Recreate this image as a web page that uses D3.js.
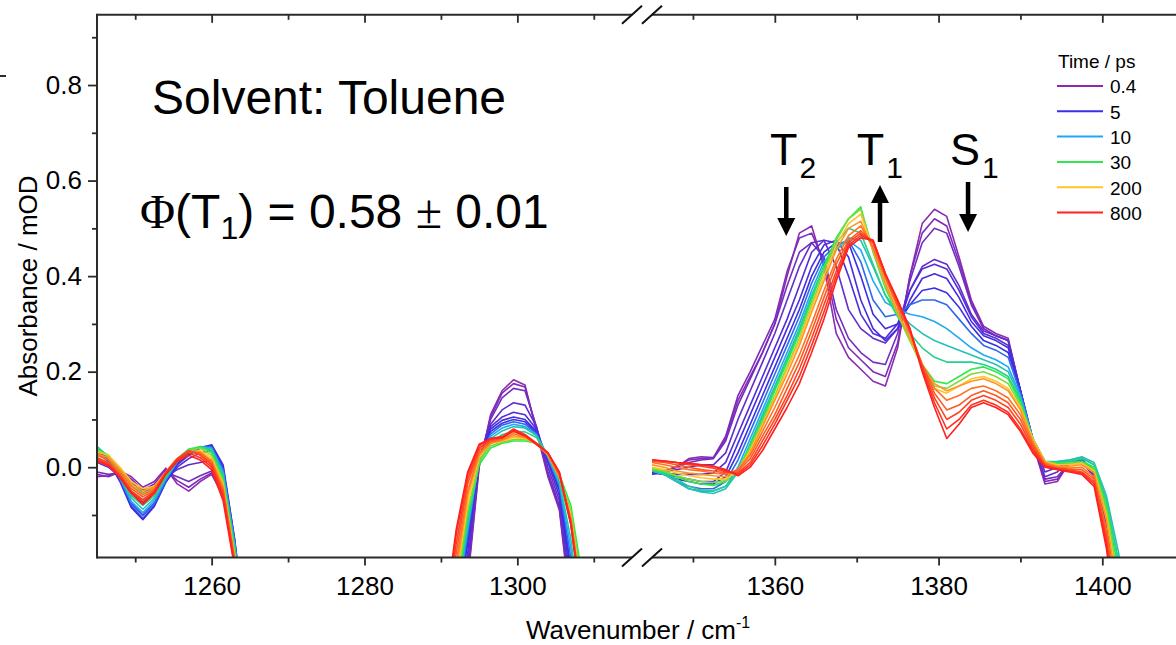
<!DOCTYPE html>
<html>
<head>
<meta charset="utf-8">
<script src="https://cdn.jsdelivr.net/npm/d3@7"></script>
<style>
  body { margin: 0; background: #fff; }
  svg text { font-family: "Liberation Sans", Arial, sans-serif; fill: #000; }
</style>
</head>
<body>
<div id="chart"></div>
<script>
// delay of each trace (ps), drawn in this order so the late red ones sit on top
const delays = [0.4, 0.6, 0.8, 1.5, 2.5, 4, 5, 7, 10, 15, 20, 30, 60, 200, 300, 400, 500, 600, 700, 800];
const legendTimes = [0.4, 5, 10, 30, 200, 800];
const legendColors = ["#8a2cb0", "#3d2ee6", "#1fa8f5", "#2fe84a", "#ffc425", "#ff2020"];

const yMajor = [0, 0.2, 0.4, 0.6, 0.8];
const yMinor = [-0.1, 0.1, 0.3, 0.5, 0.7, 0.9];

// wavenumbers (cm-1)
const wnLeft = [1245, 1246.5, 1248, 1249.5, 1251, 1252.5, 1254, 1255.5, 1257, 1258.5, 1260, 1261.5, 1263, 1264.5, 1266];
const wnMid = [1290.5, 1292, 1293.5, 1295, 1296.5, 1298, 1299.5, 1301, 1302.5, 1304, 1305.5, 1307, 1308.5, 1310];
const wnRight = [1345, 1346.5, 1348, 1349.5, 1351, 1352.5, 1354, 1355.5, 1357, 1358.5, 1360, 1361.5, 1363, 1364.5,
  1366, 1367.5, 1369, 1370.5, 1372, 1373.5, 1375, 1376.5, 1378, 1379.5, 1381, 1382.5, 1384, 1385.5, 1387, 1388.5,
  1390, 1391.5, 1393, 1394.5, 1396, 1397.5, 1399, 1400.5, 1402, 1403.5];

// absorbance (mOD), one row per delay
const absLeft = [
  [-0.020, -0.018, -0.008, -0.020, -0.042, -0.030, -0.002, -0.035, -0.050, -0.030, -0.015, -0.060, -0.200, -0.380, -0.500],
  [-0.015, -0.020, -0.010, -0.025, -0.048, -0.035, -0.005, -0.028, -0.042, -0.025, -0.012, -0.055, -0.200, -0.380, -0.500],
  [-0.010, -0.015, -0.012, -0.030, -0.055, -0.040, -0.010, -0.020, -0.030, -0.018, -0.008, -0.050, -0.195, -0.380, -0.500],
  [0.010, 0.000, -0.020, -0.055, -0.075, -0.055, -0.020, -0.005, 0.005, 0.010, 0.015, -0.030, -0.180, -0.370, -0.500],
  [0.020, 0.008, -0.025, -0.075, -0.100, -0.075, -0.030, 0.000, 0.018, 0.030, 0.035, -0.010, -0.160, -0.360, -0.500],
  [0.030, 0.012, -0.030, -0.085, -0.110, -0.082, -0.032, 0.005, 0.025, 0.040, 0.047, 0.005, -0.150, -0.350, -0.500],
  [0.035, 0.015, -0.028, -0.082, -0.108, -0.080, -0.030, 0.008, 0.028, 0.042, 0.045, 0.000, -0.150, -0.350, -0.500],
  [0.040, 0.018, -0.025, -0.078, -0.102, -0.076, -0.028, 0.010, 0.030, 0.042, 0.042, -0.005, -0.155, -0.350, -0.500],
  [0.043, 0.020, -0.022, -0.072, -0.095, -0.070, -0.025, 0.012, 0.032, 0.043, 0.040, -0.010, -0.160, -0.355, -0.500],
  [0.043, 0.022, -0.020, -0.065, -0.088, -0.065, -0.022, 0.014, 0.033, 0.043, 0.038, -0.015, -0.165, -0.360, -0.500],
  [0.040, 0.022, -0.018, -0.060, -0.080, -0.060, -0.020, 0.015, 0.035, 0.043, 0.035, -0.020, -0.170, -0.360, -0.500],
  [0.038, 0.025, -0.012, -0.050, -0.068, -0.052, -0.015, 0.018, 0.038, 0.043, 0.030, -0.025, -0.175, -0.365, -0.500],
  [0.035, 0.025, -0.005, -0.038, -0.055, -0.045, -0.012, 0.018, 0.035, 0.040, 0.025, -0.030, -0.180, -0.370, -0.500],
  [0.032, 0.025, 0.000, -0.030, -0.045, -0.040, -0.010, 0.018, 0.032, 0.035, 0.020, -0.035, -0.185, -0.370, -0.500],
  [0.028, 0.020, -0.005, -0.035, -0.050, -0.042, -0.010, 0.018, 0.032, 0.032, 0.015, -0.040, -0.190, -0.375, -0.500],
  [0.025, 0.015, -0.010, -0.040, -0.058, -0.045, -0.012, 0.016, 0.032, 0.030, 0.012, -0.045, -0.190, -0.375, -0.500],
  [0.020, 0.010, -0.015, -0.045, -0.062, -0.048, -0.012, 0.015, 0.034, 0.028, 0.008, -0.050, -0.195, -0.380, -0.500],
  [0.018, 0.008, -0.018, -0.050, -0.068, -0.050, -0.010, 0.018, 0.035, 0.025, 0.005, -0.055, -0.200, -0.380, -0.500],
  [0.015, 0.005, -0.020, -0.052, -0.072, -0.052, -0.012, 0.015, 0.030, 0.020, 0.000, -0.062, -0.205, -0.385, -0.500],
  [0.012, 0.003, -0.022, -0.055, -0.078, -0.055, -0.015, 0.012, 0.025, 0.015, -0.005, -0.070, -0.210, -0.385, -0.500]
];

const absMid = [
  [-0.500, -0.400, -0.240, 0.000, 0.110, 0.160, 0.183, 0.172, 0.075, -0.020, -0.090, -0.300, -0.450, -0.500],
  [-0.500, -0.390, -0.230, 0.005, 0.105, 0.155, 0.175, 0.168, 0.080, -0.015, -0.085, -0.290, -0.450, -0.500],
  [-0.500, -0.380, -0.220, 0.010, 0.100, 0.145, 0.165, 0.160, 0.085, -0.010, -0.080, -0.280, -0.450, -0.500],
  [-0.480, -0.360, -0.200, 0.015, 0.090, 0.120, 0.135, 0.130, 0.085, 0.000, -0.070, -0.260, -0.440, -0.500],
  [-0.460, -0.340, -0.180, 0.020, 0.085, 0.105, 0.115, 0.110, 0.080, 0.010, -0.060, -0.240, -0.430, -0.500],
  [-0.450, -0.320, -0.160, 0.022, 0.080, 0.098, 0.105, 0.100, 0.075, 0.015, -0.050, -0.220, -0.420, -0.500],
  [-0.440, -0.310, -0.150, 0.020, 0.075, 0.092, 0.100, 0.095, 0.072, 0.018, -0.045, -0.210, -0.410, -0.500],
  [-0.430, -0.300, -0.140, 0.018, 0.070, 0.088, 0.095, 0.090, 0.070, 0.020, -0.040, -0.190, -0.390, -0.500],
  [-0.420, -0.290, -0.130, 0.015, 0.065, 0.082, 0.090, 0.085, 0.068, 0.022, -0.035, -0.170, -0.370, -0.500],
  [-0.410, -0.280, -0.120, 0.012, 0.060, 0.076, 0.085, 0.082, 0.066, 0.024, -0.030, -0.150, -0.340, -0.500],
  [-0.400, -0.270, -0.110, 0.010, 0.052, 0.068, 0.075, 0.074, 0.062, 0.025, -0.025, -0.120, -0.300, -0.500],
  [-0.400, -0.265, -0.100, 0.005, 0.040, 0.050, 0.055, 0.055, 0.050, 0.028, -0.015, -0.080, -0.230, -0.500],
  [-0.380, -0.250, -0.090, 0.012, 0.045, 0.052, 0.058, 0.058, 0.050, 0.027, -0.018, -0.090, -0.250, -0.500],
  [-0.370, -0.235, -0.075, 0.020, 0.050, 0.055, 0.062, 0.060, 0.050, 0.026, -0.020, -0.100, -0.270, -0.500],
  [-0.360, -0.220, -0.060, 0.025, 0.050, 0.056, 0.066, 0.062, 0.048, 0.025, -0.020, -0.105, -0.280, -0.500],
  [-0.350, -0.200, -0.050, 0.030, 0.052, 0.058, 0.070, 0.064, 0.048, 0.028, -0.018, -0.110, -0.285, -0.500],
  [-0.340, -0.180, -0.035, 0.035, 0.055, 0.060, 0.075, 0.066, 0.050, 0.030, -0.015, -0.112, -0.290, -0.500],
  [-0.330, -0.160, -0.025, 0.040, 0.058, 0.062, 0.078, 0.068, 0.050, 0.030, -0.012, -0.115, -0.295, -0.500],
  [-0.320, -0.140, -0.015, 0.045, 0.060, 0.064, 0.080, 0.068, 0.050, 0.030, -0.010, -0.118, -0.300, -0.500],
  [-0.310, -0.130, -0.010, 0.048, 0.060, 0.062, 0.076, 0.066, 0.048, 0.030, -0.012, -0.120, -0.300, -0.500]
];

const absRight = [
  [-0.012, -0.010, 0.000, 0.018, 0.022, 0.020, 0.060, 0.140, 0.190, 0.240, 0.300, 0.400, 0.490, 0.505, 0.420, 0.280, 0.230, 0.205, 0.180, 0.170,
   0.250, 0.400, 0.510, 0.540, 0.525, 0.440, 0.350, 0.295, 0.280, 0.270, 0.160, 0.050, -0.035, -0.030, 0.010, 0.020, -0.020, -0.120, -0.300, -0.450],
  [-0.010, -0.008, 0.002, 0.015, 0.018, 0.020, 0.065, 0.150, 0.200, 0.255, 0.310, 0.410, 0.480, 0.490, 0.430, 0.310, 0.250, 0.225, 0.200, 0.190,
   0.260, 0.400, 0.490, 0.520, 0.505, 0.430, 0.345, 0.290, 0.275, 0.265, 0.160, 0.055, -0.030, -0.025, 0.010, 0.018, -0.018, -0.120, -0.300, -0.450],
  [-0.015, -0.010, 0.000, 0.010, 0.015, 0.018, 0.055, 0.130, 0.185, 0.240, 0.300, 0.380, 0.450, 0.470, 0.440, 0.330, 0.270, 0.240, 0.220, 0.215,
   0.280, 0.390, 0.470, 0.500, 0.490, 0.420, 0.340, 0.290, 0.275, 0.265, 0.160, 0.050, -0.025, -0.020, 0.010, 0.015, -0.020, -0.120, -0.300, -0.450],
  [-0.012, -0.010, -0.005, 0.000, 0.005, 0.005, 0.030, 0.100, 0.160, 0.220, 0.280, 0.350, 0.420, 0.470, 0.475, 0.420, 0.330, 0.290, 0.270, 0.260,
   0.290, 0.370, 0.420, 0.435, 0.425, 0.380, 0.320, 0.285, 0.275, 0.265, 0.160, 0.050, -0.020, -0.010, 0.010, 0.012, -0.020, -0.120, -0.300, -0.450],
  [-0.010, -0.012, -0.015, -0.015, -0.015, -0.012, 0.010, 0.070, 0.130, 0.190, 0.250, 0.310, 0.380, 0.450, 0.475, 0.470, 0.400, 0.320, 0.280, 0.270,
   0.300, 0.370, 0.415, 0.425, 0.415, 0.370, 0.315, 0.280, 0.270, 0.255, 0.160, 0.055, -0.010, 0.000, 0.010, 0.012, -0.020, -0.120, -0.300, -0.450],
  [-0.012, -0.015, -0.020, -0.025, -0.030, -0.030, -0.010, 0.050, 0.110, 0.170, 0.230, 0.290, 0.350, 0.420, 0.465, 0.475, 0.440, 0.350, 0.290, 0.265,
   0.290, 0.350, 0.395, 0.405, 0.395, 0.355, 0.305, 0.275, 0.265, 0.250, 0.160, 0.060, 0.000, 0.005, 0.010, 0.012, -0.015, -0.110, -0.290, -0.450],
  [-0.010, -0.015, -0.025, -0.030, -0.035, -0.035, -0.020, 0.030, 0.090, 0.150, 0.210, 0.270, 0.330, 0.400, 0.450, 0.470, 0.470, 0.400, 0.320, 0.290,
   0.300, 0.340, 0.370, 0.375, 0.365, 0.335, 0.295, 0.265, 0.255, 0.240, 0.160, 0.060, 0.005, 0.008, 0.010, 0.012, -0.010, -0.100, -0.280, -0.450],
  [-0.008, -0.015, -0.030, -0.040, -0.045, -0.045, -0.030, 0.015, 0.075, 0.135, 0.195, 0.255, 0.315, 0.385, 0.440, 0.465, 0.475, 0.430, 0.350, 0.315,
   0.320, 0.340, 0.350, 0.350, 0.340, 0.310, 0.280, 0.255, 0.245, 0.230, 0.155, 0.060, 0.008, 0.010, 0.012, 0.015, -0.005, -0.090, -0.260, -0.450],
  [-0.008, -0.015, -0.030, -0.045, -0.050, -0.050, -0.040, 0.000, 0.060, 0.120, 0.180, 0.240, 0.300, 0.370, 0.430, 0.460, 0.475, 0.455, 0.390, 0.345,
   0.330, 0.320, 0.315, 0.305, 0.290, 0.270, 0.250, 0.235, 0.225, 0.210, 0.150, 0.060, 0.010, 0.012, 0.015, 0.020, 0.005, -0.070, -0.200, -0.400],
  [-0.008, -0.015, -0.030, -0.045, -0.052, -0.055, -0.045, -0.010, 0.050, 0.110, 0.170, 0.230, 0.290, 0.360, 0.420, 0.455, 0.480, 0.475, 0.420, 0.360,
   0.325, 0.300, 0.280, 0.265, 0.255, 0.245, 0.235, 0.225, 0.215, 0.200, 0.145, 0.060, 0.012, 0.012, 0.015, 0.022, 0.010, -0.060, -0.180, -0.380],
  [-0.006, -0.012, -0.025, -0.040, -0.048, -0.050, -0.040, -0.010, 0.045, 0.105, 0.165, 0.225, 0.285, 0.355, 0.420, 0.470, 0.500, 0.490, 0.425, 0.360,
   0.315, 0.280, 0.250, 0.230, 0.220, 0.220, 0.220, 0.215, 0.205, 0.190, 0.140, 0.060, 0.012, 0.010, 0.012, 0.018, 0.005, -0.070, -0.200, -0.400],
  [-0.005, -0.010, -0.020, -0.030, -0.035, -0.038, -0.030, -0.005, 0.045, 0.100, 0.160, 0.220, 0.280, 0.350, 0.420, 0.480, 0.520, 0.545, 0.450, 0.375,
   0.320, 0.265, 0.215, 0.180, 0.175, 0.190, 0.205, 0.210, 0.200, 0.185, 0.135, 0.060, 0.012, 0.008, 0.010, 0.012, 0.000, -0.080, -0.220, -0.420],
  [-0.003, -0.008, -0.018, -0.025, -0.030, -0.032, -0.028, -0.005, 0.040, 0.095, 0.150, 0.210, 0.270, 0.340, 0.410, 0.475, 0.520, 0.540, 0.455, 0.380,
   0.320, 0.265, 0.210, 0.170, 0.165, 0.180, 0.195, 0.200, 0.190, 0.175, 0.130, 0.060, 0.012, 0.005, 0.008, 0.010, -0.005, -0.090, -0.240, -0.430],
  [0.000, -0.005, -0.012, -0.018, -0.022, -0.025, -0.025, -0.008, 0.035, 0.090, 0.145, 0.205, 0.265, 0.335, 0.400, 0.465, 0.510, 0.530, 0.455, 0.385,
   0.325, 0.270, 0.210, 0.165, 0.155, 0.170, 0.185, 0.190, 0.180, 0.165, 0.125, 0.060, 0.012, 0.005, 0.005, 0.008, -0.008, -0.100, -0.260, -0.440],
  [0.005, 0.000, -0.008, -0.012, -0.015, -0.018, -0.020, -0.005, 0.030, 0.085, 0.140, 0.195, 0.255, 0.325, 0.390, 0.455, 0.500, 0.515, 0.455, 0.385,
   0.325, 0.270, 0.215, 0.175, 0.160, 0.170, 0.180, 0.185, 0.175, 0.160, 0.120, 0.055, 0.010, 0.002, 0.002, 0.005, -0.012, -0.110, -0.280, -0.450],
  [0.010, 0.005, 0.000, -0.005, -0.008, -0.012, -0.015, -0.005, 0.025, 0.075, 0.125, 0.180, 0.235, 0.300, 0.370, 0.435, 0.485, 0.505, 0.460, 0.395,
   0.335, 0.280, 0.215, 0.165, 0.140, 0.150, 0.165, 0.170, 0.160, 0.145, 0.110, 0.050, 0.008, 0.000, -0.002, 0.000, -0.020, -0.130, -0.300, -0.450],
  [0.012, 0.010, 0.005, 0.000, -0.005, -0.008, -0.012, -0.008, 0.018, 0.065, 0.110, 0.165, 0.220, 0.285, 0.355, 0.425, 0.475, 0.495, 0.470, 0.400,
   0.340, 0.285, 0.215, 0.155, 0.120, 0.130, 0.150, 0.160, 0.150, 0.135, 0.100, 0.045, 0.005, -0.002, -0.005, -0.005, -0.025, -0.140, -0.320, -0.460],
  [0.015, 0.012, 0.010, 0.005, 0.002, -0.002, -0.010, -0.012, 0.010, 0.055, 0.100, 0.150, 0.205, 0.270, 0.340, 0.410, 0.470, 0.490, 0.470, 0.405,
   0.345, 0.285, 0.210, 0.145, 0.100, 0.115, 0.140, 0.150, 0.140, 0.125, 0.090, 0.040, 0.003, -0.003, -0.006, -0.010, -0.030, -0.150, -0.340, -0.470],
  [0.015, 0.013, 0.010, 0.008, 0.005, 0.002, -0.008, -0.015, 0.005, 0.045, 0.090, 0.140, 0.190, 0.255, 0.325, 0.400, 0.465, 0.485, 0.475, 0.405,
   0.350, 0.290, 0.205, 0.135, 0.080, 0.100, 0.130, 0.140, 0.130, 0.115, 0.080, 0.035, 0.002, -0.004, -0.008, -0.012, -0.035, -0.160, -0.350, -0.480],
  [0.015, 0.013, 0.010, 0.008, 0.005, 0.002, -0.005, -0.018, 0.000, 0.035, 0.080, 0.125, 0.175, 0.240, 0.310, 0.390, 0.460, 0.480, 0.475, 0.405,
   0.350, 0.290, 0.200, 0.125, 0.060, 0.090, 0.125, 0.135, 0.125, 0.110, 0.075, 0.030, 0.000, -0.005, -0.010, -0.015, -0.040, -0.170, -0.360, -0.480]
];

// band labels and arrows (wavenumber of label start and of arrow, arrow extent in px)
const bands = [
  { name: "T", sub: "2", labelWn: 1359.4, arrowWn: 1361.4, dir: "down", y0: 187, y1: 236 },
  { name: "T", sub: "1", labelWn: 1370.0, arrowWn: 1372.85, dir: "up", y0: 185, y1: 242 },
  { name: "S", sub: "1", labelWn: 1381.4, arrowWn: 1383.6, dir: "down", y0: 182, y1: 232 }
];

const FONT = '"Liberation Sans", Arial, sans-serif';
const SERIF = '"Liberation Serif", "Times New Roman", serif';

class BrokenAxisPlot {
  constructor(containerSelector) {
    this.containerSelector = containerSelector;
    this.color = d3.scaleLog().domain(legendTimes).range(legendColors).interpolate(d3.interpolateRgb);
    this.init();
  }

  init() {
    const svg = d3.select(this.containerSelector)
      .append("svg")
      .attr("width", 1176)
      .attr("height", 645);

    this.top = 14.8;
    this.bottom = 557.5;
    this.left = 97;
    this.y = d3.scaleLinear().domain([-0.189, 0.947]).range([this.bottom, this.top]);

    this.segments = [
      {
        id: "clipL",
        x: d3.scaleLinear().domain([1245, 1315]).range([97, 632]),
        major: [1260, 1280, 1300],
        minor: [1250, 1270, 1290, 1310],
        parts: [[wnLeft, absLeft], [wnMid, absMid]]
      },
      {
        id: "clipR",
        x: d3.scaleLinear().domain([1345, 1409]).range([652, 1176]),
        major: [1360, 1380, 1400],
        minor: [1350, 1370, 1390],
        parts: [[wnRight, absRight]]
      }
    ];

    this.drawLines(svg);
    this.setupAxes(svg);
    this.drawText(svg);
    this.drawLegend(svg);
  }

  drawLines(svg) {
    const plot = this;
    this.segments.forEach(seg => {
      const [x0, x1] = seg.x.range();
      svg.append("clipPath").attr("id", seg.id)
        .append("rect")
        .attr("x", x0).attr("y", plot.top)
        .attr("width", x1 - x0).attr("height", plot.bottom - plot.top);

      const g = svg.append("g").attr("clip-path", `url(#${seg.id})`);
      seg.parts.forEach(([wn, rows]) => {
        const line = d3.line().x((d, i) => seg.x(wn[i])).y(d => plot.y(d));
        g.selectAll(null)
          .data(rows)
          .enter().append("path")
          .attr("d", line)
          .attr("fill", "none")
          .attr("stroke", (d, i) => plot.color(delays[i]))
          .attr("stroke-width", 1.6)
          .attr("stroke-linejoin", "round");
      });
    });
  }

  setupAxes(svg) {
    const plot = this;
    const ink = "#2b2b2b";

    const styleAxis = g => {
      g.select(".domain").remove();
      g.attr("color", ink).attr("font-size", 26).attr("font-family", FONT);
      g.selectAll("line").attr("stroke-width", 1.8);
    };

    this.segments.forEach(seg => {
      svg.append("g")
        .attr("transform", `translate(0,${plot.bottom})`)
        .call(d3.axisBottom(seg.x).tickValues(seg.major).tickSize(8).tickPadding(11).tickFormat(d3.format("d")))
        .call(styleAxis);
      svg.append("g")
        .attr("transform", `translate(0,${plot.bottom})`)
        .call(d3.axisBottom(seg.x).tickValues(seg.minor).tickSize(5).tickFormat(""))
        .call(styleAxis);
      // top ticks point inward
      svg.append("g")
        .attr("transform", `translate(0,${plot.top})`)
        .call(d3.axisTop(seg.x).tickValues(seg.major).tickSize(-8).tickFormat(""))
        .call(styleAxis);
      svg.append("g")
        .attr("transform", `translate(0,${plot.top})`)
        .call(d3.axisTop(seg.x).tickValues(seg.minor).tickSize(-5).tickFormat(""))
        .call(styleAxis);

      const [x0, x1] = seg.x.range();
      [plot.top, plot.bottom].forEach(yy => {
        svg.append("line")
          .attr("x1", x0).attr("x2", x1).attr("y1", yy).attr("y2", yy)
          .attr("stroke", ink).attr("stroke-width", 2);
      });
    });

    svg.append("g")
      .attr("transform", `translate(${plot.left},0)`)
      .call(d3.axisLeft(plot.y).tickValues(yMajor).tickSize(9).tickPadding(6).tickFormat(d3.format(".1f")))
      .call(styleAxis);
    svg.append("g")
      .attr("transform", `translate(${plot.left},0)`)
      .call(d3.axisLeft(plot.y).tickValues(yMinor).tickSize(5).tickFormat(""))
      .call(styleAxis);
    svg.append("line")
      .attr("x1", plot.left).attr("x2", plot.left)
      .attr("y1", plot.top - 1).attr("y2", plot.bottom + 1)
      .attr("stroke", ink).attr("stroke-width", 2);

    // break marks
    const breaks = [this.segments[0].x.range()[1], this.segments[1].x.range()[0]];
    [plot.top, plot.bottom].forEach(yy => {
      breaks.forEach(bx => {
        svg.append("line")
          .attr("x1", bx - 10).attr("y1", yy + 9)
          .attr("x2", bx + 10).attr("y2", yy - 9)
          .attr("stroke", "#111").attr("stroke-width", 2);
      });
    });

    // stray mark at the very left edge
    svg.append("line")
      .attr("x1", 0).attr("x2", 6).attr("y1", 76).attr("y2", 76)
      .attr("stroke", ink).attr("stroke-width", 2);
  }

  drawText(svg) {
    const xr = this.segments[1].x;

    svg.append("text")
      .attr("transform", "translate(37,286) rotate(-90)")
      .attr("text-anchor", "middle")
      .style("font-size", "26px")
      .text("Absorbance / mOD");

    const xt = svg.append("text")
      .attr("x", 526).attr("y", 639)
      .style("font-size", "26px");
    xt.append("tspan").text("Wavenumber / cm");
    xt.append("tspan").attr("dy", -11).style("font-size", "16px").text("-1");

    svg.append("text")
      .attr("x", 152).attr("y", 114)
      .style("font-size", "48px")
      .text("Solvent: Toluene");

    const phi = svg.append("text")
      .attr("x", 140).attr("y", 228)
      .style("font-size", "48px");
    phi.append("tspan").style("font-family", SERIF).text("\u03A6");
    phi.append("tspan").text("(T");
    phi.append("tspan").attr("dy", 11).style("font-size", "32px").text("1");
    phi.append("tspan").attr("dy", -11).text(") = 0.58 ");
    phi.append("tspan").style("font-family", SERIF).text("\u00B1");
    phi.append("tspan").text(" 0.01");

    bands.forEach(b => {
      const t = svg.append("text")
        .attr("x", xr(b.labelWn)).attr("y", 165)
        .style("font-size", "45px");
      t.append("tspan").text(b.name);
      t.append("tspan").attr("dx", 2).attr("dy", 13).style("font-size", "30px").text(b.sub);

      const ax = xr(b.arrowWn);
      const down = b.dir === "down";
      const headBase = down ? b.y1 - 18 : b.y0 + 18;
      svg.append("line")
        .attr("x1", ax).attr("x2", ax)
        .attr("y1", down ? b.y0 : headBase - 1)
        .attr("y2", down ? headBase + 1 : b.y1)
        .attr("stroke", "#000").attr("stroke-width", 4.5);
      const head = down
        ? [[ax - 9, headBase], [ax + 9, headBase], [ax, b.y1]]
        : [[ax - 9, headBase], [ax + 9, headBase], [ax, b.y0]];
      svg.append("path")
        .attr("d", d3.line()(head) + "Z")
        .attr("fill", "#000");
    });
  }

  drawLegend(svg) {
    const plot = this;
    const g = svg.append("g");
    g.append("text")
      .attr("x", 1058).attr("y", 67.5)
      .style("font-size", "19px")
      .text("Time / ps");

    const rows = g.selectAll(null)
      .data(legendTimes)
      .enter().append("g")
      .attr("transform", (d, i) => `translate(0,${86 + i * 25.3})`);
    rows.append("line")
      .attr("x1", 1057).attr("x2", 1103)
      .attr("stroke", d => plot.color(d))
      .attr("stroke-width", 2);
    rows.append("text")
      .attr("x", 1110).attr("y", 7.3)
      .style("font-size", "19px")
      .text(d => String(d));
  }
}

new BrokenAxisPlot("#chart");
</script>
</body>
</html>
